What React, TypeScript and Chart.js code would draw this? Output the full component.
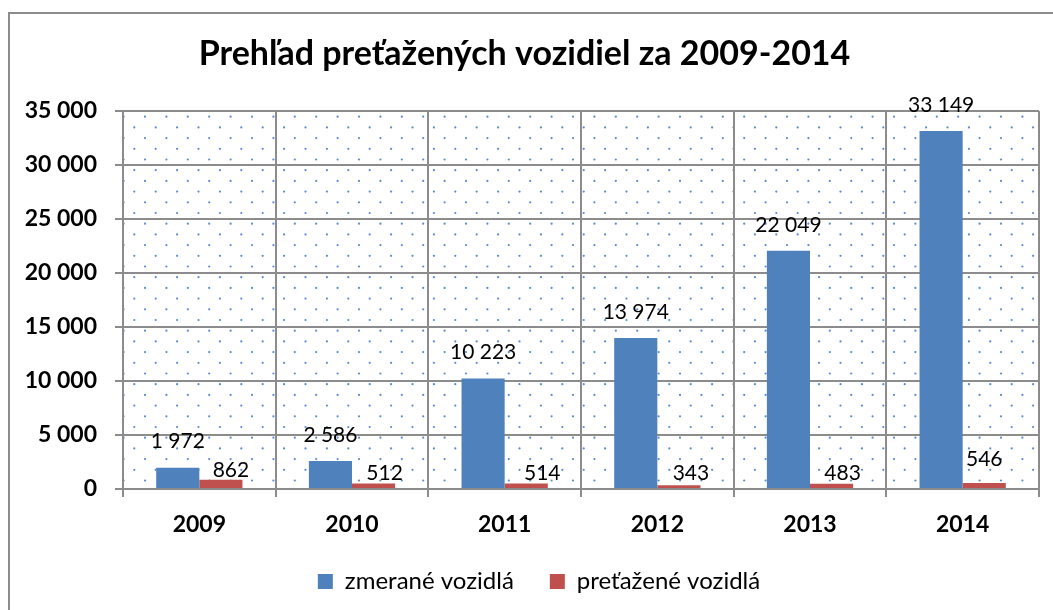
import React, { useEffect, useRef } from 'react';
import { Chart, registerables } from 'chart.js';

Chart.register(...registerables);

const TITLE = 'Prehľad preťažených vozidiel za 2009-2014';
const YEARS = ['2009', '2010', '2011', '2012', '2013', '2014'];
const MEASURED = [1972, 2586, 10223, 13974, 22049, 33149];
const OVERLOADED = [862, 512, 514, 343, 483, 546];
const SERIES_NAMES = ['zmerané vozidlá', 'preťažené vozidlá'];
const Y_MIN = 0;
const Y_MAX = 35000;
const Y_STEP = 5000;

// label nudges (pixels) for the red series' value labels, as placed in the original
const RED_LABEL_NUDGE: [number, number][] = [
  [10, -9], [11, -10], [16, -10], [12, -12], [11, -11], [0, -24],
];

const FONT = 'Lato, "Open Sans", sans-serif';
const GRID = '#8c8c8c';

const fmt = (v: number) => String(Math.round(v)).replace(/\B(?=(\d{3})+(?!\d))/g, ' ');

const dotsPlugin = {
  id: 'dots',
  beforeDraw(chart: any) {
    const { ctx, chartArea: a } = chart;
    ctx.save();
    ctx.beginPath();
    ctx.rect(a.left, a.top, a.right - a.left, a.bottom - a.top);
    ctx.clip();
    ctx.fillStyle = '#5a8ad2';
    const sx = 21.4;
    const sy = 10.7;
    let j = 0;
    for (let y = a.top + 5.7; y < a.bottom + 2; y += sy, j++) {
      const x0 = a.left + (j % 2 === 0 ? 0.6 : 11.3);
      for (let x = x0; x < a.right + 2; x += sx) {
        ctx.beginPath();
        ctx.arc(x, y, 1.1, 0, Math.PI * 2);
        ctx.fill();
      }
    }
    ctx.restore();
  },
};

const legendShiftPlugin = {
  id: 'legendShift',
  afterLayout(chart: any) {
    const lg = chart.legend;
    if (lg) {
      lg.left += 14.5;
      lg.right += 14.5;
    }
  },
};

const valueLabelsPlugin = {
  id: 'valueLabels',
  afterDatasetsDraw(chart: any) {
    const { ctx } = chart;
    ctx.save();
    ctx.font = `21px ${FONT}`;
    ctx.fillStyle = '#000';
    ctx.textAlign = 'center';
    ctx.textBaseline = 'middle';
    chart.data.datasets.forEach((ds: any, di: number) => {
      const meta = chart.getDatasetMeta(di);
      meta.data.forEach((bar: any, i: number) => {
        const v = ds.data[i] as number;
        let dx = 0;
        let dy = -26;
        if (di === 1) {
          dx = RED_LABEL_NUDGE[i][0];
          dy = RED_LABEL_NUDGE[i][1];
        }
        ctx.fillText(fmt(v), bar.x + dx, bar.y + dy);
      });
    });
    ctx.restore();
  },
};

export default function App() {
  const ref = useRef<HTMLCanvasElement | null>(null);

  useEffect(() => {
    if (!ref.current) return;
    const chart = new Chart(ref.current, {
      type: 'bar',
      data: {
        labels: YEARS,
        datasets: [
          {
            label: SERIES_NAMES[0],
            data: MEASURED,
            backgroundColor: '#4F81BD',
            categoryPercentage: 0.565,
            barPercentage: 1,
          },
          {
            label: SERIES_NAMES[1],
            data: OVERLOADED,
            backgroundColor: '#C0504D',
            categoryPercentage: 0.565,
            barPercentage: 1,
          },
        ],
      },
      options: {
        responsive: false,
        animation: false,
        devicePixelRatio: 1,
        layout: { padding: { left: 0, right: 9, top: 0, bottom: 6.5 } },
        plugins: {
          title: {
            display: true,
            text: TITLE,
            color: '#000',
            font: { family: FONT, size: 34, weight: 'bold', lineHeight: 1.2 },
            padding: { top: 20, bottom: 36.2 },
          },
          legend: {
            position: 'bottom',
            labels: {
              boxWidth: 15,
              boxHeight: 15,
              padding: 36,
              color: '#000',
              font: { family: FONT, size: 24 },
            },
          },
          tooltip: { enabled: false },
        },
        scales: {
          x: {
            grid: { offset: true, color: GRID, lineWidth: 2, tickLength: 8, drawTicks: true },
            border: { color: GRID, width: 2 },
            ticks: {
              color: '#000',
              font: { family: FONT, size: 23, weight: 'bold' },
              padding: 14,
            },
            afterFit: (s: any) => {
              s.height = 44.5;
            },
          },
          y: {
            min: Y_MIN,
            max: Y_MAX,
            grid: { color: GRID, lineWidth: 2, tickLength: 8 },
            border: { color: GRID, width: 2 },
            ticks: {
              stepSize: Y_STEP,
              color: '#000',
              font: { family: FONT, size: 23, weight: 'bold' },
              padding: 18,
              callback: (v: any) => fmt(Number(v)),
            },
            afterFit: (s: any) => {
              s.width = 113;
            },
          },
        },
      } as any,
      plugins: [dotsPlugin, valueLabelsPlugin, legendShiftPlugin],
    });
    return () => chart.destroy();
  }, []);

  return (
    <div
      style={{
        position: 'fixed',
        left: 8,
        top: 12,
        width: 1100,
        height: 700,
        borderLeft: `2px solid ${GRID}`,
        borderTop: `2px solid ${GRID}`,
        background: '#fff',
      }}
    >
      <canvas ref={ref} width={1038} height={596} style={{ display: 'block', width: 1038, height: 596 }} />
    </div>
  );
}
